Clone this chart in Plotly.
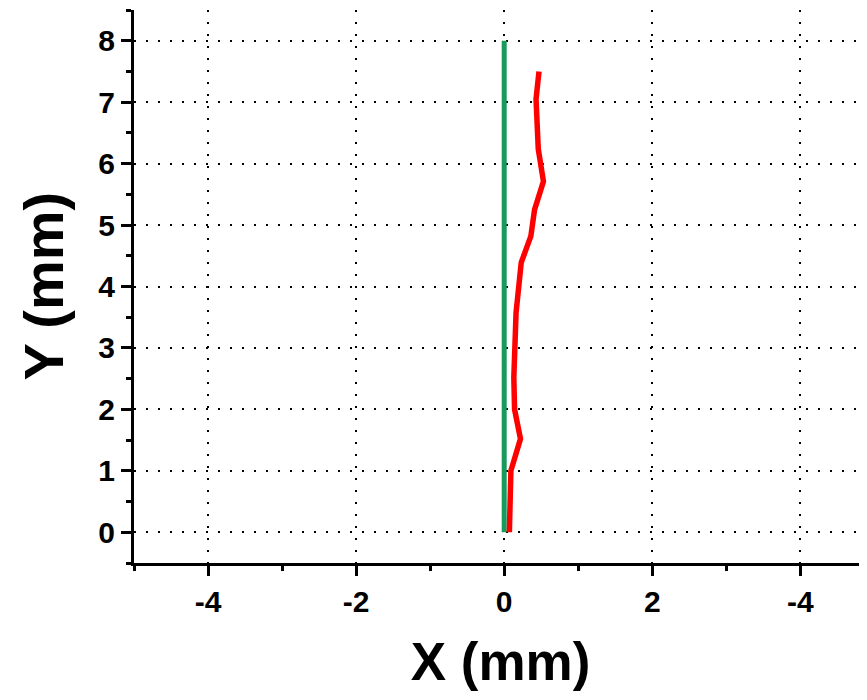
import plotly.graph_objects as go

# Data
red_x = [0.07, 0.09, 0.22, 0.14, 0.13, 0.16, 0.23, 0.36, 0.41, 0.53, 0.46, 0.43, 0.47]
red_y = [0.0, 1.0, 1.52, 2.0, 2.52, 3.57, 4.39, 4.82, 5.25, 5.71, 6.24, 7.05, 7.5]
green_x = [0, 0]
green_y = [0, 8]
x_tickvals = [-4, -2, 0, 2, 4]
x_ticktext = ["-4", "-2", "0", "2", "-4"]
y_tickvals = [0, 1, 2, 3, 4, 5, 6, 7, 8]
y_ticktext = ["0", "1", "2", "3", "4", "5", "6", "7", "8"]

fig = go.Figure()
fig.add_trace(go.Scatter(x=green_x, y=green_y, mode="lines",
                         line=dict(color="#189a5c", width=5), showlegend=False))
fig.add_trace(go.Scatter(x=red_x, y=red_y, mode="lines",
                         line=dict(color="#ff0000", width=5.5), showlegend=False))

ff = "Liberation Sans"
fig.update_layout(
    template="none",
    width=859, height=692,
    margin=dict(l=126, r=0, t=2, b=137),
    paper_bgcolor="white", plot_bgcolor="white",
    font=dict(family=ff, color="black"),
    showlegend=False,
    xaxis=dict(
        range=[-5, 4.9],
        automargin=False,
        tickmode="array",
        tickvals=x_tickvals, ticktext=["<b>%s</b>" % t for t in x_ticktext],
        tickfont=dict(size=30, family=ff, color="black"),
        showline=True, linecolor="black", linewidth=3,
        ticks="outside", ticklen=10, tickwidth=3, tickcolor="black",
        minor=dict(dtick=1, tick0=0, ticks="outside", ticklen=5, tickwidth=2.5,
                   tickcolor="black", showgrid=False),
        showgrid=True, gridcolor="black", gridwidth=2, griddash="2px,10px",
        zeroline=False,
        title=dict(text="<b>X (mm)</b>", font=dict(size=53, family=ff, color="black"), standoff=26),
    ),
    yaxis=dict(
        range=[-0.5, 8.5],
        automargin=False,
        tickmode="array",
        tickvals=y_tickvals, ticktext=["<b>%s</b>" % t for t in y_ticktext],
        tickfont=dict(size=30, family=ff, color="black"),
        showline=True, linecolor="black", linewidth=3,
        ticks="outside", ticklen=10, tickwidth=3, tickcolor="black",
        minor=dict(dtick=0.5, tick0=0, ticks="outside", ticklen=5, tickwidth=2.5,
                   tickcolor="black", showgrid=False),
        showgrid=True, gridcolor="black", gridwidth=2, griddash="2px,10px",
        zeroline=False,
    ),
    annotations=[dict(
        text="<b>Y (mm)</b>", textangle=-90, showarrow=False,
        xref="paper", yref="paper", x=-0.124, y=0.5,
        xanchor="center", yanchor="middle",
        font=dict(size=56, family=ff, color="black"),
    )],
)

fig.write_html("out.html")
